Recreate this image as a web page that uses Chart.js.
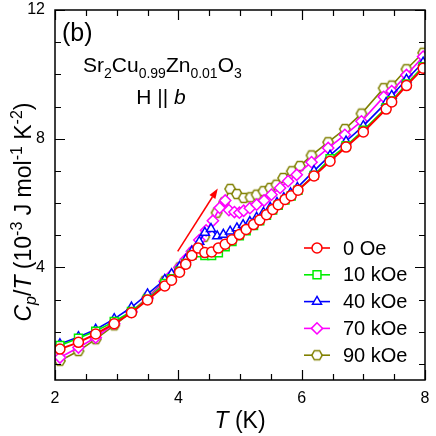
<!DOCTYPE html>
<html><head><meta charset="utf-8">
<script src="https://cdn.jsdelivr.net/npm/chart.js@4"></script>
<style>html,body{margin:0;padding:0;background:#fff}canvas{display:block}</style>
</head><body>
<canvas id="c" width="436" height="436"></canvas>
<script>
// ---- data ----
const seriesLabels = ['0 Oe', '10 kOe', '40 kOe', '70 kOe', '90 kOe'];

const tRed = [2.08,2.38,2.66,2.96,3.24,3.50,3.78,3.89,4.02,4.12,4.22,4.32,4.43,4.54,4.65,4.76,4.87,4.99,5.10,5.22,5.32,5.43,5.53,5.62,5.73,5.83,5.94,6.20,6.46,6.72,7.00,7.37,7.46,7.70,7.97];
const cRed = [1.46,1.67,1.93,2.25,2.59,2.99,3.42,3.60,3.85,4.10,4.37,4.60,4.46,4.48,4.60,4.72,4.86,5.02,5.18,5.33,5.47,5.64,5.80,5.95,6.11,6.23,6.40,6.84,7.30,7.74,8.21,8.92,9.14,9.65,10.19];

const tGreen = [2.08,2.38,2.66,2.96,3.24,3.50,3.78,3.89,4.02,4.12,4.22,4.32,4.43,4.54,4.65,4.76,4.87,4.99,5.10,5.22,5.32,5.43,5.53,5.62,5.73,5.83,5.94,6.20,6.46,6.72,7.00,7.37,7.46,7.70,7.97];
const cGreen = [1.57,1.80,2.02,2.32,2.63,3.01,3.50,3.65,3.88,4.12,4.38,4.45,4.37,4.37,4.45,4.64,4.80,4.98,5.14,5.30,5.45,5.62,5.78,5.93,6.09,6.22,6.40,6.86,7.38,7.78,8.26,8.96,9.18,9.70,10.24];

const tBlue = [2.08,2.38,2.66,2.96,3.24,3.50,3.78,3.89,4.02,4.12,4.22,4.34,4.43,4.53,4.63,4.73,4.84,4.95,5.05,5.16,5.27,5.38,5.49,5.60,5.71,5.82,5.93,6.20,6.46,6.72,7.00,7.37,7.46,7.70,7.97];
const cBlue = [1.62,1.84,2.07,2.40,2.76,3.17,3.62,3.80,4.02,4.24,4.50,4.80,5.08,5.20,4.97,5.02,5.12,5.22,5.32,5.42,5.55,5.70,5.86,6.01,6.16,6.31,6.48,7.00,7.48,7.92,8.40,9.12,9.34,9.84,10.37];

const tMagenta = [2.08,2.38,2.66,2.96,3.24,3.50,3.78,3.89,4.02,4.12,4.22,4.34,4.45,4.56,4.67,4.76,4.82,4.91,4.99,5.06,5.16,5.27,5.39,5.51,5.65,5.78,5.92,6.16,6.43,6.70,6.97,7.33,7.46,7.70,7.97];
const cMagenta = [1.20,1.51,1.82,2.25,2.62,3.04,3.56,3.76,4.00,4.25,4.50,4.85,5.15,5.45,5.85,6.08,5.78,5.72,5.70,5.76,5.84,5.95,6.08,6.26,6.47,6.68,6.88,7.27,7.71,8.12,8.54,9.30,9.48,9.98,10.55];

const tOlive = [2.08,2.38,2.66,2.96,3.24,3.50,3.78,4.02,4.22,4.42,4.62,4.74,4.84,4.95,5.06,5.17,5.27,5.38,5.49,5.59,5.70,5.84,5.97,6.16,6.43,6.70,6.97,7.33,7.46,7.70,7.97];
const cOlive = [1.10,1.40,1.77,2.20,2.62,3.06,3.58,4.00,4.46,4.95,5.70,6.02,6.44,6.28,6.16,6.18,6.26,6.37,6.47,6.57,6.78,6.99,7.15,7.48,7.89,8.30,8.78,9.57,9.65,10.16,10.67];

const xTickValues = [2, 4, 6, 8];
const yTickValues = [4, 8, 12];
const arrowStart = [3.99, 4.50];   // (T, C/T) in data units
const arrowEnd = [4.64, 6.45];

// ---- styling ----
const FONT = '"Liberation Sans", Arial, Helvetica, sans-serif';
const colors = ['#ff0000', '#00ee00', '#0000ff', '#ff00ff', '#808000'];

function hexagonStyle(color) {
  const c = document.createElement('canvas');
  c.width = 14; c.height = 14;
  const g = c.getContext('2d');
  g.beginPath();
  for (let i = 0; i < 6; i++) {
    const a = i * Math.PI / 3;
    const px = 7 + 5.2 * Math.cos(a), py = 7 + 5.2 * Math.sin(a);
    if (i === 0) g.moveTo(px, py); else g.lineTo(px, py);
  }
  g.closePath();
  g.fillStyle = '#fff'; g.fill();
  g.lineWidth = 1.5; g.strokeStyle = color; g.stroke();
  return c;
}

function pts(t, c) { return t.map((x, i) => ({ x: x, y: c[i] })); }

const styles = [
  { pointStyle: 'circle', pointRadius: 5 },
  { pointStyle: 'rect', pointRadius: 5.6 },
  { pointStyle: 'triangle', pointRadius: 5.2 },
  { pointStyle: 'rectRot', pointRadius: 5.6 },
  { pointStyle: hexagonStyle(colors[4]), pointRadius: 6 }
];
const dataPairs = [[tRed, cRed], [tGreen, cGreen], [tBlue, cBlue], [tMagenta, cMagenta], [tOlive, cOlive]];

const datasets = dataPairs.map((p, i) => ({
  label: seriesLabels[i],
  data: pts(p[0], p[1]),
  borderColor: colors[i],
  backgroundColor: '#fff',
  pointBackgroundColor: '#fff',
  pointBorderColor: colors[i],
  pointBorderWidth: 1.5,
  borderWidth: i === 0 ? 2 : 1.6,
  pointStyle: styles[i].pointStyle,
  pointRadius: styles[i].pointRadius,
  tension: 0,
  fill: false
}));

function drawRich(ctx, segs, x, y, align) {
  let total = 0;
  segs.forEach(s => { ctx.font = (s.it ? 'italic ' : '') + s.size + 'px ' + FONT; s.w = ctx.measureText(s.t).width; total += s.w; });
  let cx = align === 'center' ? x - total / 2 : x;
  ctx.textBaseline = 'alphabetic';
  ctx.textAlign = 'left';
  segs.forEach(s => {
    ctx.font = (s.it ? 'italic ' : '') + s.size + 'px ' + FONT;
    ctx.fillText(s.t, cx, y + (s.dy || 0));
    cx += s.w;
  });
}

const decor = {
  id: 'decor',
  afterDatasetsDraw(chart) {
    const ctx = chart.ctx;
    const a = chart.chartArea;
    const xs = chart.scales.x, ys = chart.scales.y;
    ctx.save();
    // frame
    ctx.strokeStyle = '#000';
    ctx.lineWidth = 1.5;
    ctx.strokeRect(a.left, a.top, a.right - a.left, a.bottom - a.top);
    // ticks (inward, all four sides)
    ctx.lineWidth = 1.2;
    ctx.beginPath();
    for (let v = 2; v <= 8.001; v += 0.5) {
      const px = Math.round(xs.getPixelForValue(v)) + 0.5;
      const len = xTickValues.includes(Math.round(v * 10) / 10) ? 10 : 6;
      ctx.moveTo(px, a.bottom); ctx.lineTo(px, a.bottom - len);
      ctx.moveTo(px, a.top); ctx.lineTo(px, a.top + len);
    }
    for (let v = 1; v <= 12.001; v += 1) {
      const py = Math.round(ys.getPixelForValue(v)) + 0.5;
      const len = yTickValues.includes(v) ? 10 : 6;
      ctx.moveTo(a.left, py); ctx.lineTo(a.left + len, py);
      ctx.moveTo(a.right, py); ctx.lineTo(a.right - len, py);
    }
    ctx.stroke();

    // arrow
    const x0 = xs.getPixelForValue(arrowStart[0]), y0 = ys.getPixelForValue(arrowStart[1]);
    const x1 = xs.getPixelForValue(arrowEnd[0]), y1 = ys.getPixelForValue(arrowEnd[1]);
    const ang = Math.atan2(y1 - y0, x1 - x0);
    const hl = 10, hw = 3.5;
    ctx.strokeStyle = '#ff0000'; ctx.fillStyle = '#ff0000'; ctx.lineWidth = 1.5;
    ctx.beginPath();
    ctx.moveTo(x0, y0);
    ctx.lineTo(x1 - hl * Math.cos(ang), y1 - hl * Math.sin(ang));
    ctx.stroke();
    ctx.beginPath();
    ctx.moveTo(x1, y1);
    ctx.lineTo(x1 - hl * Math.cos(ang) + hw * Math.sin(ang), y1 - hl * Math.sin(ang) - hw * Math.cos(ang));
    ctx.lineTo(x1 - hl * Math.cos(ang) - hw * Math.sin(ang), y1 - hl * Math.sin(ang) + hw * Math.cos(ang));
    ctx.closePath();
    ctx.fill();

    // legend
    const lx = a.right - 108, ly0 = a.top + 238, dyRow = 26.8;
    chart.data.datasets.forEach((ds, i) => {
      const ry = ly0 + i * dyRow;
      ctx.strokeStyle = ds.borderColor; ctx.lineWidth = 1.6;
      ctx.beginPath(); ctx.moveTo(lx - 13, ry); ctx.lineTo(lx + 13, ry); ctx.stroke();
      ctx.fillStyle = '#fff';
      ctx.strokeStyle = ds.borderColor; ctx.lineWidth = 1.5;
      Chart.helpers.drawPoint(ctx, { pointStyle: ds.pointStyle, radius: ds.pointRadius, rotation: 0, borderWidth: 1.5 }, lx, ry);
      ctx.fillStyle = '#000';
      ctx.font = '20px ' + FONT;
      ctx.textAlign = 'left'; ctx.textBaseline = 'middle';
      ctx.fillText(ds.label, lx + 26, ry + 1);
    });

    // annotations
    ctx.fillStyle = '#000';
    drawRich(ctx, [{ t: '(b)', size: 25 }], a.left + 7, a.top + 30.5, 'left');
    drawRich(ctx, [
      { t: 'Sr', size: 21 }, { t: '2', size: 14, dy: 6 },
      { t: 'Cu', size: 21 }, { t: '0.99', size: 14, dy: 6 },
      { t: 'Zn', size: 21 }, { t: '0.01', size: 14, dy: 6 },
      { t: 'O', size: 21 }, { t: '3', size: 14, dy: 6 }
    ], a.left + 28, a.top + 61.7, 'left');
    drawRich(ctx, [{ t: 'H || ', size: 21 }, { t: 'b', size: 21, it: true }], a.left + 106, a.top + 93.5, 'center');

    // axis titles
    drawRich(ctx, [{ t: 'T', size: 23, it: true }, { t: ' (K)', size: 23 }], (a.left + a.right) / 2, 428, 'center');
    ctx.save();
    ctx.translate(31, 212);
    ctx.rotate(-Math.PI / 2);
    drawRich(ctx, [
      { t: 'C', size: 23, it: true }, { t: 'p', size: 16, it: true, dy: 5 },
      { t: '/', size: 23 }, { t: 'T', size: 23, it: true },
      { t: ' (10', size: 23 }, { t: '-3', size: 16, dy: -9 },
      { t: ' J mol', size: 23 }, { t: '-1', size: 16, dy: -9 },
      { t: ' K', size: 23 }, { t: '-2', size: 16, dy: -9 },
      { t: ')', size: 23 }
    ], 0, 0, 'center');
    ctx.restore();
    ctx.restore();
  }
};

new Chart(document.getElementById('c'), {
  type: 'line',
  data: { datasets: datasets },
  options: {
    responsive: false,
    animation: false,
    events: [],
    layout: { padding: { top: 10, right: 11, left: 0, bottom: 0 } },
    plugins: { legend: { display: false }, tooltip: { enabled: false } },
    scales: {
      x: {
        type: 'linear', min: 2, max: 8,
        afterBuildTicks(s) { s.ticks = xTickValues.map(v => ({ value: v })); },
        afterFit(s) { s.height = 56; s.paddingLeft = 0; s.paddingRight = 0; },
        grid: { display: false, drawTicks: false },
        border: { display: false },
        ticks: { color: '#000', font: { family: FONT, size: 16 }, padding: 9, maxRotation: 0 }
      },
      y: {
        type: 'linear', min: 0.5, max: 12,
        afterBuildTicks(s) { s.ticks = yTickValues.map(v => ({ value: v })); },
        afterFit(s) { s.width = 55; s.paddingTop = 0; s.paddingBottom = 0; },
        grid: { display: false, drawTicks: false },
        border: { display: false },
        ticks: { color: '#000', font: { family: FONT, size: 16 }, padding: 10 }
      }
    }
  },
  plugins: [decor]
});
</script>
</body></html>
